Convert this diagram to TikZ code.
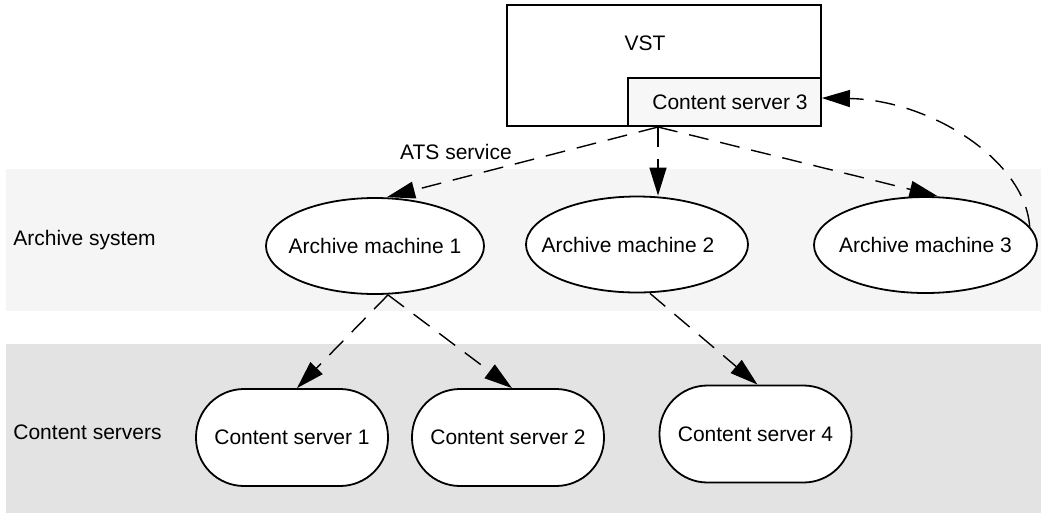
\documentclass[tikz,border=0pt]{standalone}
\usepackage{fontspec}
\setmainfont{Liberation Sans}
\usetikzlibrary{arrows.meta,shapes.geometric}

\begin{document}
\begin{tikzpicture}[>={Triangle[length=14pt,width=8.5pt]}, x=0.5pt, y=-0.5pt,
    font=\fontsize{10.5}{12}\selectfont,
    box/.style={draw, line width=0.9pt, inner sep=0pt},
    machine/.style={ellipse, draw, fill=white, line width=0.9pt, inner sep=0pt, minimum height=48pt},
    server/.style={rectangle, rounded corners=24pt, draw, fill=white, line width=0.9pt, inner sep=0pt, minimum width=96pt, minimum height=48.5pt},
    link/.style={->, line width=0.7pt, dash pattern=on 10pt off 6pt}]
    \useasboundingbox (0,0) rectangle (1054,515);

    % layers
    \fill[black!4] (6,169) rectangle (1041,311);
    \fill[black!11] (6,344) rectangle (1041,513);
    \node[anchor=west, inner sep=0pt] (archlabel) at (13,240) {Archive system};
    \node[anchor=west, inner sep=0pt] (cslabel) at (13,432) {Content servers};

    \node[box, minimum width=157pt, minimum height=60.5pt] (vst) at (664,65.5) {};
    \node (vsttitle) at (645,43) {VST};
    \node[box, fill=black!3, minimum width=96.5pt, minimum height=24pt] (cs3) at (724.5,102) {\hspace*{5.5pt}Content server 3};
    \coordinate (hub) at (658,127);

    \node[machine, minimum width=109pt] (am1) at (375,246) {\makebox[0pt]{Archive machine 1}};
    \node[machine, minimum width=111pt] (am2) at (637,244.5) {\makebox[0pt]{\hspace*{-9pt}Archive machine 2}};
    \node[machine, minimum width=111.5pt] (am3) at (925.5,245) {\makebox[0pt]{Archive machine 3}};

    \node[server] (cs1) at (292,437.5) {Content server 1};
    \node[server] (cs2) at (508,437.5) {Content server 2};
    \node[server] (cs4) at (755.5,434) {Content server 4};

    \draw[link] (hub) -- ([xshift=6pt]am1.north);
    \draw[link] (hub) -- ([xshift=10.5pt]am2.north);
    \draw[link] (hub) -- ([xshift=6pt]am3.north);
    \node (ats) at (456,152) {ATS service};

    \draw[link] (am3.10) .. controls (1025,160) and (930,100) .. ([yshift=2pt]cs3.east);

    \draw[link] ([xshift=6.5pt]am1.south) -- ([xshift=2.5pt]cs1.north);
    \draw[link] ([xshift=6.5pt]am1.south) -- ([xshift=2pt]cs2.north);
    \draw[link] ([xshift=6.5pt]am2.south) -- ([xshift=1pt]cs4.north);
\end{tikzpicture}
\end{document}
